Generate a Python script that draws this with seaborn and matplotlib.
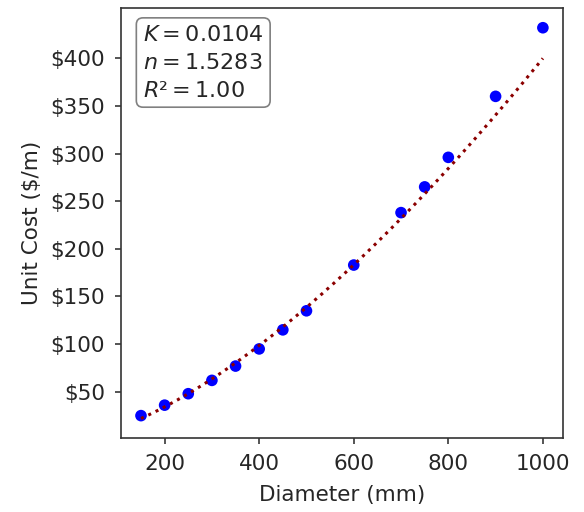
import numpy as np
import pandas as pd
import seaborn as sns
import matplotlib
matplotlib.use("Agg")
import matplotlib.pyplot as plt
from matplotlib.ticker import FuncFormatter, FixedLocator

diameters = [150, 200, 250, 300, 350, 400, 450, 500, 600, 700, 750, 800, 900, 1000]
unit_costs = [25, 36, 48, 62, 77, 95, 115, 135, 183, 238, 265, 296, 360, 432]
y_ticks = [50, 100, 150, 200, 250, 300, 350, 400]
K = 0.0104
n_exp = 1.5283
r2 = 1.00

sns.set_style("ticks")
plt.rcParams['font.family'] = ['DejaVu Sans']

df = pd.DataFrame({"Diameter (mm)": diameters, "Unit Cost ($/m)": unit_costs})
fit_x = np.linspace(min(diameters), max(diameters), 200)
fit_df = pd.DataFrame({"x": fit_x, "y": K * fit_x ** n_exp})

fig = plt.figure(figsize=(5.84, 5.12), dpi=100)
ax = fig.add_axes([0.207, 0.1445, 0.757, 0.8395])

sns.scatterplot(data=df, x="Diameter (mm)", y="Unit Cost ($/m)", ax=ax,
                color="blue", s=70, edgecolor="none", zorder=2)
sns.lineplot(data=fit_df, x="x", y="y", ax=ax, color="darkred",
             linestyle=":", linewidth=2.2, zorder=3)

ax.set_xlabel("Diameter (mm)", fontsize=15.5, labelpad=8)
ax.set_ylabel(r"Unit Cost (\$/m)", fontsize=15.5, labelpad=6)
ax.yaxis.set_major_locator(FixedLocator(y_ticks))
ax.yaxis.set_major_formatter(FuncFormatter(lambda v, p: r"\$%d" % v))
ax.tick_params(labelsize=15.5, length=4.5, width=1.1, pad=7)
for sp in ax.spines.values():
    sp.set_linewidth(1.2)
    sp.set_color("#333333")

txt = "$K = %.4f$\n$n = %.4f$\n$R² = %.2f$" % (K, n_exp, r2)
ax.text(0.05, 0.962, txt, transform=ax.transAxes, fontsize=16,
        va="top", ha="left", linespacing=1.5,
        bbox=dict(boxstyle="round,pad=0.3", facecolor="white",
                  edgecolor="gray", linewidth=1.2))

fig.savefig("out.png", dpi=100)
